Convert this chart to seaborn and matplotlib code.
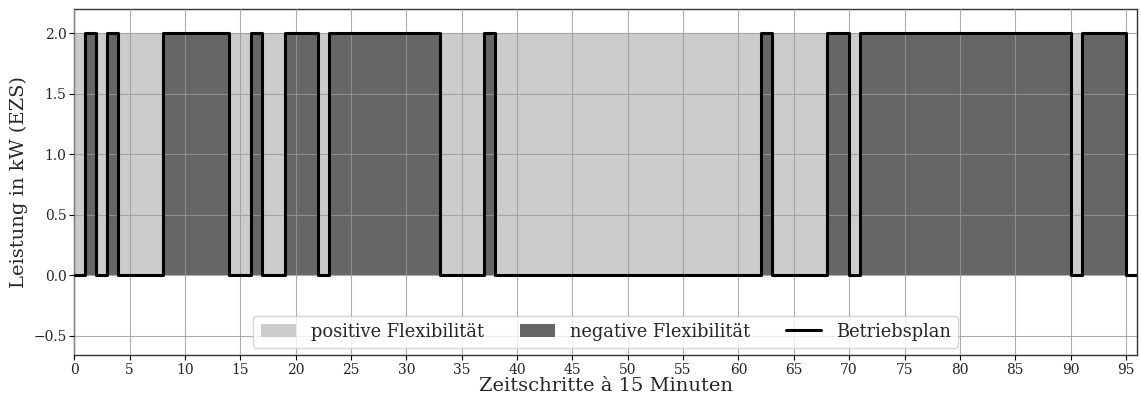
import numpy as np
import pandas as pd
import matplotlib
matplotlib.use("Agg")
import matplotlib.pyplot as plt
import seaborn as sns

# Betriebsplan values per 15-minute timestep (kW)
plan = [0, 2, 0, 2, 0, 0, 0, 0, 2, 2, 2, 2, 2, 2, 0, 0, 2, 0, 0, 2, 2, 2, 0,
        2, 2, 2, 2, 2, 2, 2, 2, 2, 2, 0, 0, 0, 0, 2, 0, 0, 0, 0, 0, 0, 0, 0,
        0, 0, 0, 0, 0, 0, 0, 0, 0, 0, 0, 0, 0, 0, 0, 0, 2, 0, 0, 0, 0, 0, 2,
        2, 0, 2, 2, 2, 2, 2, 2, 2, 2, 2, 2, 2, 2, 2, 2, 2, 2, 2, 2, 2, 0, 2,
        2, 2, 2, 0]
p_max = 2.0
xticks = list(range(0, 96, 5))
yticks = [-0.5, 0.0, 0.5, 1.0, 1.5, 2.0]

sns.set_style("whitegrid")
plt.rcParams['font.family'] = ['DejaVu Serif']

steps = np.arange(len(plan))
plan_arr = np.array(plan, dtype=float)
df_line = pd.DataFrame({"t": np.append(steps, len(plan)),
                        "p": np.append(plan_arr, plan_arr[-1])})

fig, ax = plt.subplots(figsize=(11.41, 3.98), dpi=100)
fig.subplots_adjust(left=0.065, right=0.9965, top=0.977, bottom=0.108)

ax.fill_between(steps, plan_arr, p_max, step='post', color='#cccccc',
                linewidth=0, label='positive Flexibilität', zorder=1)
ax.fill_between(steps, 0, plan_arr, step='post', color='#666666',
                linewidth=0, label='negative Flexibilität', zorder=1)
sns.lineplot(data=df_line, x="t", y="p", drawstyle='steps-post', color='black',
             linewidth=2.2, label='Betriebsplan', ax=ax, zorder=3)

ax.set_xlim(0, 96)
ax.set_ylim(-0.66, 2.2)
ax.set_xticks(xticks)
ax.set_yticks(yticks)
ax.set_xlabel('Zeitschritte à 15 Minuten', fontsize=14, labelpad=0)
ax.set_ylabel('Leistung in kW (EZS)', fontsize=14, labelpad=4)
ax.tick_params(axis='both', labelsize=10, length=3.5, color='black',
               bottom=True, left=True, pad=2)
ax.set_axisbelow(False)
ax.grid(True, color='#999999', linewidth=0.8, alpha=0.8)
for sp in ax.spines.values():
    sp.set_color('#333333')
    sp.set_linewidth(1.0)

ax.legend(loc='lower center', ncol=3, fontsize=12.9, frameon=True,
          bbox_to_anchor=(0.5, 0.0), handlelength=2.0, columnspacing=2.0,
          borderaxespad=0.4)

fig.savefig('out.png', dpi=100)
